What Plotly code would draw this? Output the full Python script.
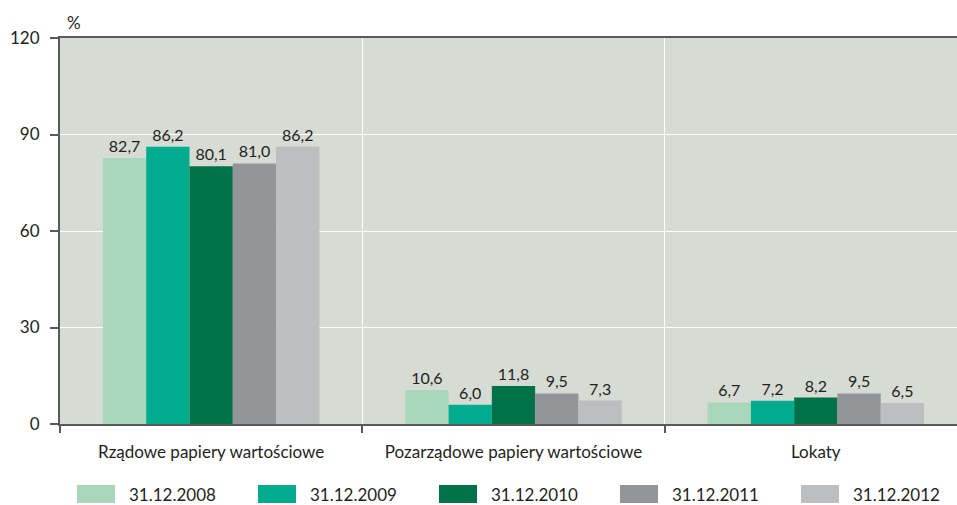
import plotly.graph_objects as go

categories = ["Rządowe papiery wartościowe", "Pozarządowe papiery wartościowe", "Lokaty"]
series_names = ["31.12.2008", "31.12.2009", "31.12.2010", "31.12.2011", "31.12.2012"]
v2008 = [82.7, 10.6, 6.7]
v2009 = [86.2, 6.0, 7.2]
v2010 = [80.1, 11.8, 8.2]
v2011 = [81.0, 9.5, 9.5]
v2012 = [86.2, 7.3, 6.5]
series_values = [v2008, v2009, v2010, v2011, v2012]
colors = ["#a8d8b9", "#00ab8e", "#007148", "#939598", "#bcbec0"]
y_ticks = [0, 30, 60, 90, 120]

FONT = "Lato"
TXT = "#231f20"

fig = go.Figure()
xpos = list(range(len(categories)))
for name, vals, col in zip(series_names, series_values, colors):
    fig.add_trace(go.Bar(
        x=xpos, y=vals, name=name, marker=dict(color=col, line=dict(width=0)),
        texttemplate="%{y:.1f}", textposition="outside", cliponaxis=False,
        constraintext="none", textfont=dict(size=16, color=TXT, family=FONT),
        showlegend=False,
    ))

W, H = 957, 505
L, T, R = 60, 38, 0
B = H - 424
pw = W - L - R
ph = H - T - B

def px_x(p):
    return (p - L) / pw

def px_y(p):
    return (H - B - p) / ph

shapes = []
annotations = []
leg_x0 = 77
leg_step = 181
for i, (name, col) in enumerate(zip(series_names, colors)):
    x0 = leg_x0 + i * leg_step
    shapes.append(dict(type="rect", xref="paper", yref="paper",
                       x0=px_x(x0), x1=px_x(x0 + 38), y0=px_y(485), y1=px_y(503),
                       fillcolor=col, line=dict(width=0)))
    annotations.append(dict(xref="paper", yref="paper", x=px_x(x0 + 50), y=px_y(494),
                            text=name, showarrow=False, xanchor="left", yanchor="middle",
                            font=dict(size=17, color=TXT, family=FONT)))
annotations.append(dict(xref="paper", yref="paper", x=px_x(65), y=px_y(22),
                        text="%", showarrow=False, xanchor="left", yanchor="middle",
                        font=dict(size=17, color=TXT, family=FONT)))

fig.update_layout(
    width=W, height=H, margin=dict(l=L, r=R, t=T, b=B, autoexpand=False),
    paper_bgcolor="white", plot_bgcolor="#d6dbd4",
    barmode="group", bargap=0.284, bargroupgap=0,
    separators=", ",
    font=dict(family=FONT, color=TXT, size=17),
    shapes=shapes, annotations=annotations,
    xaxis=dict(range=[-0.5, 2.467], tickvals=xpos, ticktext=categories,
               ticks="", showgrid=False, zeroline=False,
               showline=True, linecolor="#58595b", linewidth=2, mirror=True,
               tickfont=dict(size=17, color=TXT, family=FONT), ticklabelstandoff=12,
               minor=dict(tick0=0.5, dtick=1, ticks="outside", ticklen=7,
                          tickcolor="#58595b", tickwidth=2,
                          showgrid=True, gridcolor="white", gridwidth=1)),
    yaxis=dict(range=[0, 120], tickvals=y_ticks, ticks="outside", ticklen=8,
               tickcolor="#58595b", tickwidth=2,
               showgrid=True, gridcolor="white", gridwidth=1, zeroline=False,
               showline=True, linecolor="#58595b", linewidth=2,
               tickfont=dict(size=17, color=TXT, family=FONT), ticklabelstandoff=7),
)

fig.write_html("out.html", config={"displayModeBar": False},
               post_script="document.body.style.margin='0';document.body.style.overflow='hidden';")
